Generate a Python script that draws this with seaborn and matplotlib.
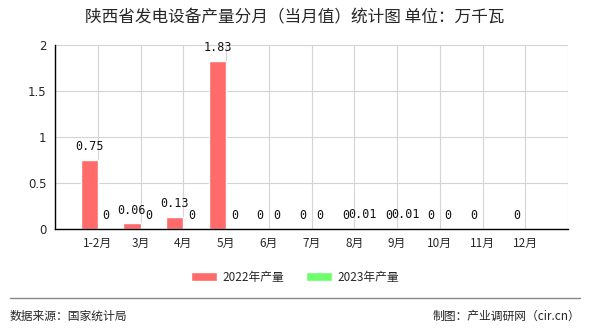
import numpy as np
import pandas as pd
import matplotlib
matplotlib.use("Agg")
import matplotlib.pyplot as plt
import seaborn as sns

categories = ["1-2月", "3月", "4月", "5月", "6月", "7月", "8月", "9月", "10月", "11月", "12月"]
values_2022 = [0.75, 0.06, 0.13, 1.83, 0, 0, 0, 0, 0, 0, 0]
values_2023 = [0, 0, 0, 0, 0, 0, 0.01, 0.01, 0, np.nan, np.nan]
series_names = ["2022年产量", "2023年产量"]
colors = ["#FF6B6B", "#6BFF6B"]
y_ticks = [0, 0.5, 1, 1.5, 2]

title = "陕西省发电设备产量分月（当月值）统计图 单位：万千瓦"
source_left = "数据来源：国家统计局"
source_right = "制图：产业调研网（cir.cn）"

sns.set_style("white")
plt.rcParams["font.family"] = ["Noto Sans CJK SC", "DejaVu Sans"]

df = pd.DataFrame({
    "month": categories * 2,
    "value": values_2022 + values_2023,
    "series": [series_names[0]] * len(categories) + [series_names[1]] * len(categories),
})

fig = plt.figure(figsize=(5.9, 3.3), dpi=100)
ax = fig.add_axes([55 / 590, 1 - 229 / 330, (568 - 55) / 590, (229 - 45) / 330])

sns.barplot(data=df, x="month", y="value", hue="series", order=categories,
            hue_order=series_names, palette=colors, width=0.8, saturation=1,
            ax=ax, legend=True, errorbar=None)

for cont in ax.containers:
    labels = []
    for bar in cont:
        h = bar.get_height()
        labels.append("" if np.isnan(h) else f"{h:g}")
    ax.bar_label(cont, labels=labels, padding=5, fontsize=8.5,
                 family=["DejaVu Sans Mono", "DejaVu Sans"], color="#111111")

ax.set_xlim(-1, len(categories))
ax.set_ylim(0, 2)
ax.set_yticks(y_ticks)
ax.set_yticklabels([f"{t:g}" for t in y_ticks], fontsize=8.5, family=["DejaVu Sans"])
xt = list(range(-1, len(categories) + 1))
ax.set_xticks(xt)
ax.set_xticklabels([""] + categories + [""], fontsize=8.5)
ax.set_xlabel("")
ax.set_ylabel("")
ax.grid(True, color="#d4d4d4", linewidth=0.8)
ax.set_axisbelow(True)
for s in ["top", "right"]:
    ax.spines[s].set_visible(False)
for s in ["left", "bottom"]:
    ax.spines[s].set_color("black")
    ax.spines[s].set_linewidth(1)
ax.tick_params(axis="both", direction="out", length=4, width=1, color="black", pad=2)

handles, labs = ax.get_legend_handles_labels()
ax.get_legend().remove()
fig.legend(handles, labs, loc="center", bbox_to_anchor=(0.5, 1 - 277 / 330), ncol=2,
           frameon=False, fontsize=8.5, handlelength=2.2, handleheight=0.9,
           columnspacing=1.8, handletextpad=0.5)

fig.text(0.5, 1 - 18 / 330, title, ha="center", va="center", fontsize=12)
fig.add_artist(plt.Line2D([10 / 590, 580 / 590], [1 - 298 / 330] * 2, color="#888888", linewidth=1))
fig.text(10 / 590, 1 - 316 / 330, source_left, ha="left", va="center", fontsize=8.5)
fig.text(580 / 590, 1 - 316 / 330, source_right, ha="right", va="center", fontsize=8.5)

fig.savefig("out.png", dpi=100)
